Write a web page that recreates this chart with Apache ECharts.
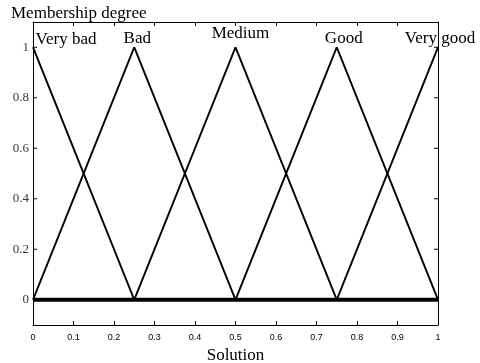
<!DOCTYPE html>
<html>
<head>
<meta charset="utf-8">
<script src="https://cdn.jsdelivr.net/npm/echarts@6/dist/echarts.min.js"></script>
<style>html,body{margin:0;padding:0;background:#fff}#c{width:480px;height:363px}</style>
</head>
<body>
<div id="c"></div>
<script>
// Triangular membership functions on the solution domain [0, 1]
const setNames = ['Very bad', 'Bad', 'Medium', 'Good', 'Very good'];
const veryBad  = [[0, 1], [0.25, 0], [1, 0]];
const bad      = [[0, 0], [0.25, 1], [0.5, 0], [1, 0]];
const medium   = [[0, 0], [0.25, 0], [0.5, 1], [0.75, 0], [1, 0]];
const good     = [[0, 0], [0.5, 0], [0.75, 1], [1, 0]];
const veryGood = [[0, 0], [0.75, 0], [1, 1]];
const peaks = [0, 0.25, 0.5, 0.75, 1];
const xTicks = [0, 0.1, 0.2, 0.3, 0.4, 0.5, 0.6, 0.7, 0.8, 0.9, 1];
const yTicks = [0, 0.2, 0.4, 0.6, 0.8, 1];

const curves = [veryBad, bad, medium, good, veryGood];
// label placement relative to each peak (pixels)
const labelOffsets = [[33, -8], [3, -9], [5, -14], [7, -9], [2, -9]];

const serif = 'Liberation Serif';
const chart = echarts.init(document.getElementById('c'));

const series = curves.map((pts, i) => ({
  type: 'line',
  name: setNames[i],
  data: pts,
  symbol: 'none',
  lineStyle: { color: '#000', width: 2 },
  z: 3,
  markPoint: {
    symbol: 'circle', symbolSize: 0,
    data: [{
      coord: [peaks[i], 1],
      label: {
        show: true, formatter: setNames[i], position: 'inside',
        offset: labelOffsets[i], color: '#000',
        fontFamily: serif, fontSize: 17
      }
    }]
  }
}));
// zero segments of all sets, drawn as the heavy baseline
series.push({
  type: 'line',
  data: [[xTicks[0], 0], [xTicks[xTicks.length - 1], 0]],
  symbol: 'none',
  lineStyle: { color: '#000', width: 4 },
  z: 4
});

const tickInside = { show: true, inside: true, length: 4, lineStyle: { color: '#000' } };
chart.setOption({
  animation: false,
  backgroundColor: '#fff',
  grid: { left: 33, right: 42, top: 22, bottom: 38, outerBoundsMode: 'none', containLabel: false },
  title: {
    text: 'Membership degree', left: 6, top: 0,
    textStyle: { fontFamily: serif, fontSize: 17, fontWeight: 'normal', color: '#000' }
  },
  xAxis: [{
    type: 'value', min: 0, max: 1, interval: 0.1,
    name: 'Solution', nameLocation: 'middle', nameGap: 21,
    nameTextStyle: { fontFamily: serif, fontSize: 17, color: '#000' },
    axisLine: { onZero: false, lineStyle: { color: '#000', width: 1 } },
    axisTick: tickInside,
    axisLabel: {
      color: '#000', fontFamily: 'Liberation Sans', fontSize: 9, margin: 8,
      formatter: v => String(+v.toFixed(1))
    },
    splitLine: { show: false }
  }, {
    type: 'value', min: 0, max: 1, interval: 0.1, position: 'top',
    axisLine: { show: true, onZero: false, lineStyle: { color: '#000' } },
    axisTick: tickInside, axisLabel: { show: false }, splitLine: { show: false }
  }],
  yAxis: [{
    type: 'value', min: -0.1, max: 1.1,
    axisLine: { show: true, onZero: false, lineStyle: { color: '#000' } },
    axisTick: { show: false },
    axisLabel: { show: false },
    splitLine: { show: false }
  }, {
    type: 'value', min: -0.1, max: 1.1, position: 'right',
    axisLine: { show: true, onZero: false, lineStyle: { color: '#000' } },
    axisTick: { show: false }, axisLabel: { show: false },
    splitLine: { show: false }
  }],
  series
});

// y ticks at the 0.2 steps, both sides, with serif labels
const tickSeries = {
  type: 'scatter',
  data: yTicks.map(v => [0, v]),
  symbolSize: 0,
  label: {
    show: true, position: 'left', distance: 4,
    formatter: p => String(+p.value[1].toFixed(1)),
    fontFamily: serif, fontSize: 13, color: '#000'
  },
  silent: true
};
const marks = [];
yTicks.forEach(v => {
  const l = chart.convertToPixel({ xAxisIndex: 0, yAxisIndex: 0 }, [0, v]);
  const r = chart.convertToPixel({ xAxisIndex: 0, yAxisIndex: 0 }, [1, v]);
  marks.push({ type: 'line', shape: { x1: l[0], y1: l[1], x2: l[0] + 4, y2: l[1] }, style: { stroke: '#000', lineWidth: 1 } });
  marks.push({ type: 'line', shape: { x1: r[0], y1: r[1], x2: r[0] - 4, y2: r[1] }, style: { stroke: '#000', lineWidth: 1 } });
});
chart.setOption({ series: series.concat([tickSeries]), graphic: marks });
</script>
</body>
</html>
